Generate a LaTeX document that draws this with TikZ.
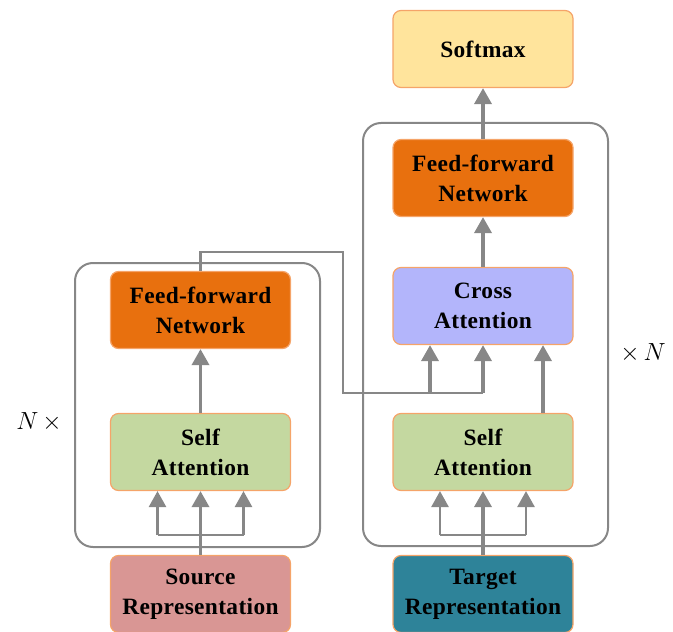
\documentclass[tikz,border=0pt]{standalone}
\usepackage{fontspec}
\setmainfont{Liberation Serif}
\usetikzlibrary{arrows.meta}

\definecolor{lineGray}{HTML}{878787}
\definecolor{edgeOrange}{HTML}{F5A469}
\definecolor{softmaxFill}{HTML}{FFE49C}
\definecolor{ffnFill}{HTML}{E8700E}
\definecolor{crossFill}{HTML}{B3B5FB}
\definecolor{selfFill}{HTML}{C4D8A0}
\definecolor{sourceFill}{HTML}{D99694}
\definecolor{targetFill}{HTML}{2E8399}

\begin{document}
\begin{tikzpicture}[x=1bp,y=-1bp,
  block/.style={draw=edgeOrange, line width=1.2bp, rounded corners=8bp,
    minimum width=180bp, minimum height=77bp, inner sep=0pt, align=center,
    font=\bfseries\fontsize{23.5}{30}\selectfont\addfontfeature{LetterSpace=1.5}},
  stack/.style={draw=lineGray, line width=2bp, rounded corners=18bp},
  flow/.style={draw=lineGray, line width=3.5bp,
    -{Triangle[width=17bp,length=16bp]}},
  sideflow/.style={draw=lineGray, line width=2.8bp,
    -{Triangle[width=17bp,length=16bp]}},
  wire/.style={draw=lineGray, line width=2.2bp},
  repeat/.style={font=\fontsize{32}{32}\selectfont, anchor=base, inner sep=0pt}
]
\useasboundingbox (0,0) rectangle (673,632);

% layer stacks
\draw[stack] (75,263) rectangle (320,547);
\draw[stack] (363,123) rectangle (608,546);

% encoder side
\node[block, fill=ffnFill]    (ffnL) at (200.5,310) {Feed-forward\\Network};
\node[block, fill=selfFill]   (saL)  at (200.5,452) {Self\\Attention};
\node[block, fill=sourceFill] (src)  at (200.5,594) {Source\\Representation};

% decoder side
\node[block, fill=softmaxFill] (soft)  at (483,49)  {Softmax};
\node[block, fill=ffnFill]     (ffnR)  at (483,178) {Feed-forward\\Network};
\node[block, fill=crossFill]   (cross) at (483,306) {Cross\\Attention};
\node[block, fill=selfFill]    (saR)   at (483,452) {Self\\Attention};
\node[block, fill=targetFill]  (tgt)   at (483,594) {Target\\Representation};

% repetition marks
\node[repeat] (nl) at (39,429) {$N\,\times$};
\node[repeat] (nr) at (643,360) {$\times\,N$};

% encoder input fan-out
\coordinate (jla) at (157.5,535);
\coordinate (jlb) at (243.5,535);
\draw[wire] (jla) -- (jlb);
\draw[flow] (src.north) -- (saL.south);
\draw[sideflow] (jla) -- (jla |- saL.south);
\draw[sideflow] (jlb) -- (jlb |- saL.south);
\draw[flow] (saL.north) -- (ffnL.south);

% decoder input fan-out
\coordinate (jra) at (440,535);
\coordinate (jrb) at (526,535);
\draw[wire] (jra) -- (jrb);
\draw[flow] (tgt.north) -- (saR.south);
\draw[sideflow] (jra) -- (jra |- saR.south);
\draw[sideflow] (jrb) -- (jrb |- saR.south);

% encoder output routed into cross attention
\coordinate (w1) at (343,252);
\coordinate (w2) at (343,393);
\coordinate (w3) at (483,393);
\coordinate (w4) at (430,393);
\draw[wire] (ffnL.north) |- (w1) -- (w2) -- (w3);
\draw[flow] (w3) -- (cross.south);
\draw[flow] (w4) -- (w4 |- cross.south);
\draw[flow] ([xshift=60bp]saR.north) -- ([xshift=60bp]cross.south);

% decoder upward path
\draw[flow] (cross.north) -- (ffnR.south);
\draw[flow] (ffnR.north) -- (soft.south);
\end{tikzpicture}
\end{document}
